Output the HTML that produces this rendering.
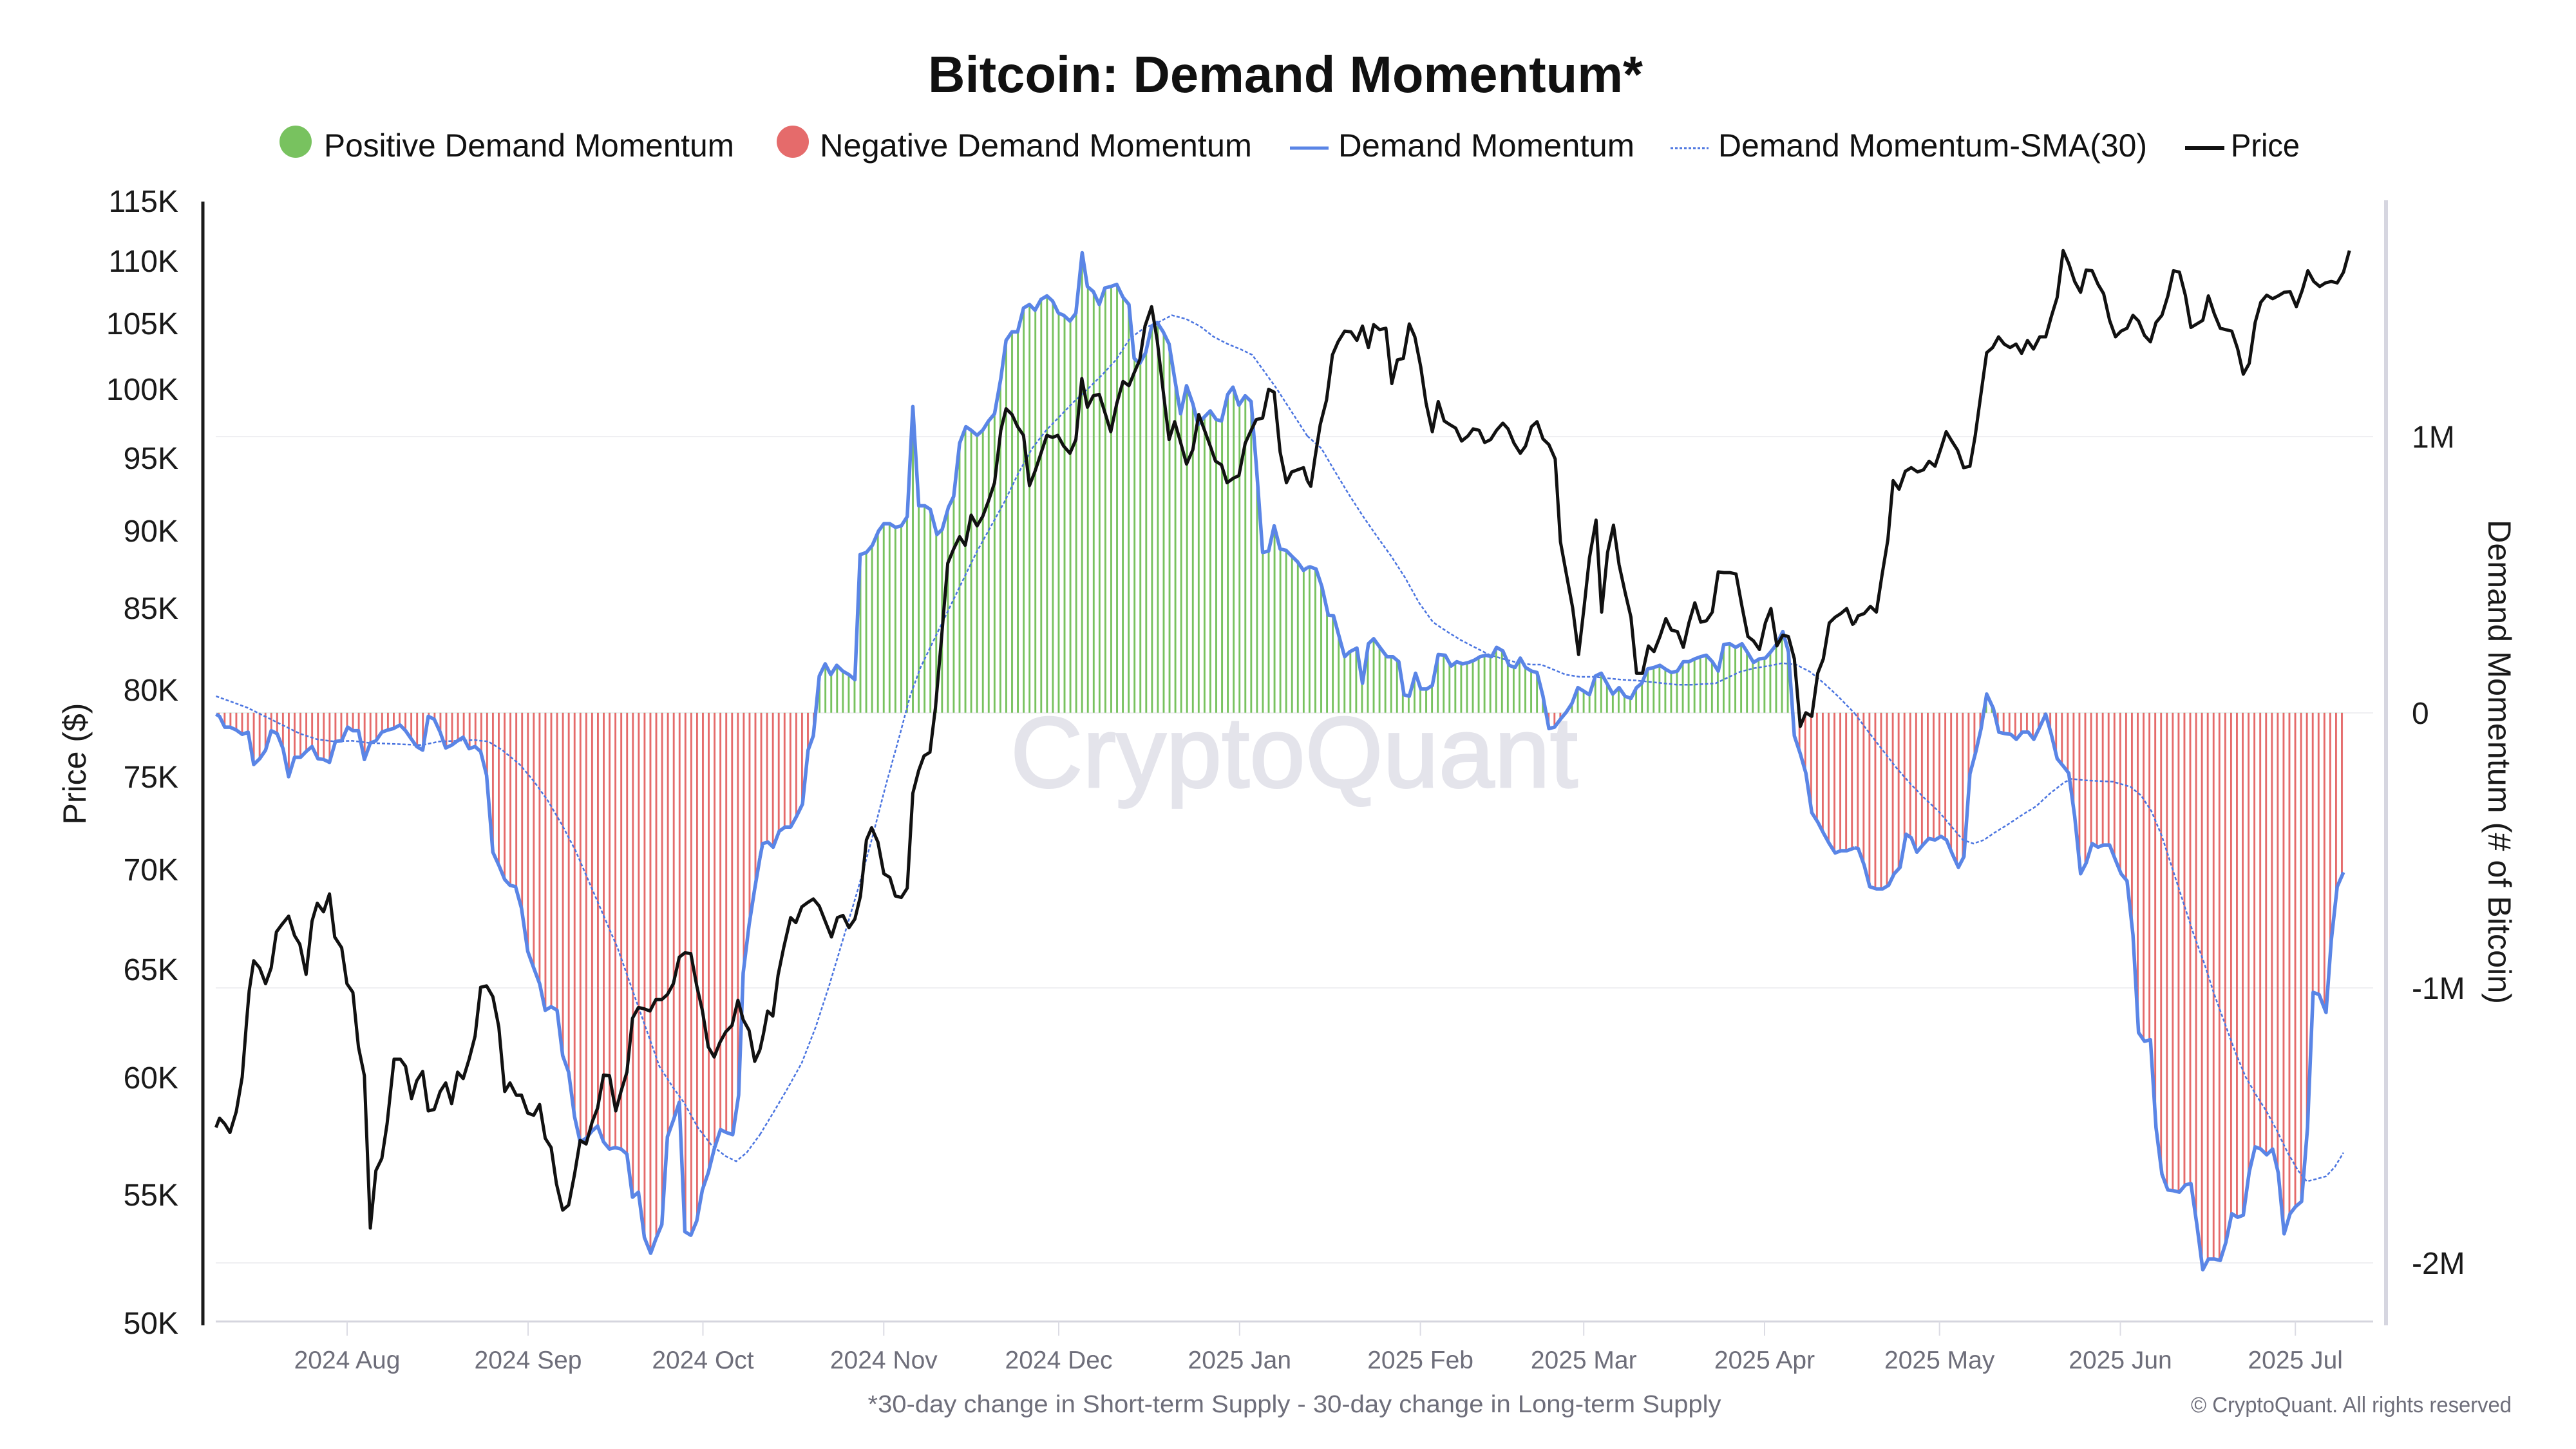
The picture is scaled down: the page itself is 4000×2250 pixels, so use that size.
<!DOCTYPE html>
<html>
<head>
<meta charset="utf-8">
<style>
  html,body{margin:0;padding:0;background:#fff;}
  svg{display:block;}
  text{font-family:"Liberation Sans", sans-serif;}
</style>
</head>
<body>
<svg width="4000" height="2250" viewBox="0 0 4000 2250" xmlns="http://www.w3.org/2000/svg">
  <defs>
    <pattern id="gpat" patternUnits="userSpaceOnUse" x="338.3" y="0" width="9.057" height="20">
      <rect x="0" y="0" width="2.9" height="20" fill="#78c25f"/>
    </pattern>
    <pattern id="rpat" patternUnits="userSpaceOnUse" x="338.3" y="0" width="9.057" height="20">
      <rect x="0" y="0" width="2.9" height="20" fill="#e56b6b"/>
    </pattern>
    <clipPath id="areaClip">
      <polygon transform="translate(330,311) scale(0.54211,1.11607)" points="10,715 20,718 35,733 50,733 68,737 85,743 102,740 118,785 135,777 152,765 168,738 185,742 202,763 218,802 235,775 252,775 268,767 285,760 302,777 318,778 335,782 352,753 370,752 387,733 402,738 418,738 435,778 452,755 468,752 485,740 502,737 518,735 537,730 553,738 570,750 585,760 602,765 618,718 635,722 652,740 668,762 685,758 702,752 718,747 735,763 752,760 768,767 785,800 803,907 820,925 837,945 852,953 868,955 885,985 903,1045 920,1068 937,1090 953,1127 970,1122 987,1127 1003,1190 1020,1213 1037,1275 1053,1310 1070,1305 1087,1295 1103,1288 1120,1310 1137,1320 1153,1318 1170,1320 1187,1327 1203,1387 1220,1380 1237,1443 1255,1465 1270,1445 1287,1425 1303,1303 1320,1280 1337,1255 1353,1435 1370,1440 1387,1420 1403,1377 1420,1353 1437,1320 1455,1293 1472,1297 1490,1300 1507,1245 1520,1075 1537,1008 1553,958 1568,915 1568,713 10,713"/>
      <polygon transform="translate(1180,311) scale(0.54211,1.11607)" points="0,915 8,895 23,893 38,900 55,878 72,872 88,872 105,857 122,840 138,765 153,745 170,662 187,645 203,660 220,647 237,655 255,660 272,667 287,493 305,490 322,480 340,460 355,450 372,450 388,455 405,453 422,440 438,287 455,425 472,425 488,430 507,465 522,458 540,427 555,412 572,338 590,315 605,320 622,327 638,320 655,307 672,297 690,248 705,195 722,183 738,183 755,150 772,145 788,153 805,138 822,133 838,140 855,157 870,160 888,168 905,157 923,73 938,120 955,127 972,145 988,122 1005,120 1022,117 1040,135 1057,145 1072,220 1088,227 1105,212 1122,175 1138,170 1155,183 1172,200 1188,248 1205,297 1222,258 1240,283 1255,312 1272,302 1290,293 1307,305 1322,307 1340,270 1355,260 1372,285 1390,272 1407,280 1422,370 1440,490 1457,488 1473,453 1490,485 1507,487 1523,495 1540,503 1557,515 1568,511 1568,713 0,713"/>
      <polygon transform="translate(2030,311) scale(0.54211,1.11607)" points="0,511 8,510 25,513 42,538 60,577 75,578 90,605 107,635 122,628 142,623 158,672 175,617 190,610 208,622 228,635 245,635 262,642 277,688 292,690 310,658 325,680 342,680 358,675 375,632 395,633 412,648 428,642 445,645 462,643 478,640 495,635 512,633 528,635 542,622 560,627 578,647 595,650 610,637 625,650 642,655 658,657 675,690 692,735 708,733 725,722 742,712 758,700 775,678 792,683 808,688 825,662 842,658 858,672 875,687 893,678 910,690 927,693 943,678 958,672 975,652 993,650 1010,647 1028,653 1043,657 1060,655 1077,642 1093,642 1110,638 1127,635 1143,633 1160,642 1177,655 1193,618 1210,617 1227,622 1245,617 1262,630 1278,643 1295,638 1312,637 1328,628 1345,617 1362,600 1378,628 1395,745 1412,770 1428,797 1445,852 1462,865 1478,880 1495,895 1512,908 1528,905 1545,905 1568,901 1568,713 0,713"/>
      <polygon transform="translate(2880,311) scale(0.54211,1.11607)" points="0,901 10,902 27,925 43,955 62,958 80,958 97,953 113,937 130,928 147,882 162,887 178,907 195,897 212,888 230,890 247,885 263,890 280,910 297,928 313,913 330,798 347,767 362,735 378,687 397,707 413,740 430,742 447,743 463,750 480,740 497,740 513,750 530,733 547,715 563,743 580,777 597,787 613,797 630,857 647,937 663,922 680,895 697,900 713,897 730,897 747,918 763,937 780,947 797,1022 813,1158 830,1170 847,1168 863,1290 880,1355 897,1377 913,1378 930,1380 947,1370 963,1368 980,1425 997,1488 1013,1473 1030,1473 1047,1475 1063,1450 1080,1410 1097,1415 1113,1412 1130,1352 1147,1317 1163,1320 1180,1328 1197,1320 1213,1353 1230,1438 1247,1410 1263,1400 1280,1393 1297,1290 1313,1102 1330,1105 1350,1130 1365,1030 1382,955 1400,935 1400,713 0,713"/>
    </clipPath>
  </defs>

  <rect x="0" y="0" width="4000" height="2250" fill="#ffffff"/>

  <!-- Title -->
  <text x="1996" y="143" font-size="80" font-weight="bold" fill="#111" text-anchor="middle" textLength="1110" lengthAdjust="spacingAndGlyphs">Bitcoin: Demand Momentum*</text>

  <!-- Legend -->
  <circle cx="459" cy="220" r="25" fill="#78c25f"/>
  <text x="503" y="243" font-size="50" fill="#111" textLength="637" lengthAdjust="spacingAndGlyphs">Positive Demand Momentum</text>
  <circle cx="1231" cy="220" r="25" fill="#e56b6b"/>
  <text x="1273" y="243" font-size="50" fill="#111" textLength="671" lengthAdjust="spacingAndGlyphs">Negative Demand Momentum</text>
  <line x1="2003" y1="230" x2="2063" y2="230" stroke="#5a85e6" stroke-width="5"/>
  <text x="2078" y="243" font-size="50" fill="#111" textLength="460" lengthAdjust="spacingAndGlyphs">Demand Momentum</text>
  <line x1="2594" y1="230" x2="2653" y2="230" stroke="#4a74e0" stroke-width="3" stroke-dasharray="4 3"/>
  <text x="2668" y="243" font-size="50" fill="#111" textLength="666" lengthAdjust="spacingAndGlyphs">Demand Momentum-SMA(30)</text>
  <line x1="3393" y1="230" x2="3454" y2="230" stroke="#111" stroke-width="6"/>
  <text x="3464" y="243" font-size="50" fill="#111" textLength="107" lengthAdjust="spacingAndGlyphs">Price</text>

  <!-- Gridlines -->
  <g stroke="#efeff2" stroke-width="2">
    <line x1="335" y1="678" x2="3685" y2="678"/>
    <line x1="335" y1="1107" x2="3685" y2="1107"/>
    <line x1="335" y1="1534" x2="3685" y2="1534"/>
    <line x1="335" y1="1961" x2="3685" y2="1961"/>
  </g>

  <!-- Watermark -->
  <text x="1569" y="1222" font-size="156" fill="#e4e4eb" stroke="#e4e4eb" stroke-width="3" textLength="881" lengthAdjust="spacingAndGlyphs">CryptoQuant</text>

  <!-- Bars -->
  <rect x="330" y="300" width="3370" height="807" fill="url(#gpat)" clip-path="url(#areaClip)"/>
  <rect x="330" y="1107" width="3370" height="950" fill="url(#rpat)" clip-path="url(#areaClip)"/>

  <!-- Axes -->
  <line x1="315" y1="313" x2="315" y2="2058" stroke="#1a1a1a" stroke-width="5"/>
  <line x1="3705" y1="311" x2="3705" y2="2058" stroke="#d6d6e0" stroke-width="6"/>
  <line x1="335" y1="2052" x2="3685" y2="2052" stroke="#d5d5de" stroke-width="3"/>
  <g stroke="#dcdce4" stroke-width="2">
    <line x1="539" y1="2052" x2="539" y2="2074"/>
    <line x1="820" y1="2052" x2="820" y2="2074"/>
    <line x1="1091.5" y1="2052" x2="1091.5" y2="2074"/>
    <line x1="1372.3" y1="2052" x2="1372.3" y2="2074"/>
    <line x1="1644" y1="2052" x2="1644" y2="2074"/>
    <line x1="1924.8" y1="2052" x2="1924.8" y2="2074"/>
    <line x1="2205.6" y1="2052" x2="2205.6" y2="2074"/>
    <line x1="2459.2" y1="2052" x2="2459.2" y2="2074"/>
    <line x1="2740" y1="2052" x2="2740" y2="2074"/>
    <line x1="3011.7" y1="2052" x2="3011.7" y2="2074"/>
    <line x1="3292.5" y1="2052" x2="3292.5" y2="2074"/>
    <line x1="3564.2" y1="2052" x2="3564.2" y2="2074"/>
  </g>

  <!-- SMA dashed -->
  <g fill="none" stroke="#4a74e0" stroke-width="2.5" stroke-dasharray="5 3">
    <polyline vector-effect="non-scaling-stroke" transform="translate(330,311) scale(0.54211,1.11607)" points="10,690 50,697 100,706 150,718 200,730 250,742 300,750 350,753 400,752 450,755 500,756 550,757 600,758 650,753 700,752 750,751 790,753 830,765 880,785 920,808 960,835 1000,868 1040,905 1080,950 1120,995 1160,1040 1200,1095 1240,1150 1280,1205 1320,1235 1350,1255 1390,1290 1430,1315 1470,1330 1500,1337 1530,1325 1568,1300"/>
    <polyline vector-effect="non-scaling-stroke" transform="translate(1180,311) scale(0.54211,1.11607)" points="0,1300 40,1268 80,1235 120,1200 160,1150 200,1090 240,1025 280,960 320,890 360,815 400,745 430,690 460,650 500,610 540,570 580,530 620,490 660,455 700,420 740,380 780,345 820,320 860,300 900,280 940,262 980,243 1020,222 1060,192 1100,178 1140,170 1180,160 1220,165 1260,175 1300,190 1340,200 1380,208 1410,215 1440,235 1480,262 1520,292 1568,328"/>
    <polyline vector-effect="non-scaling-stroke" transform="translate(2030,311) scale(0.54211,1.11607)" points="0,328 40,345 80,378 120,410 160,440 200,468 240,495 280,525 320,560 360,587 400,600 440,612 480,622 520,632 560,638 600,643 640,646 670,646 700,652 740,660 780,663 820,663 860,665 900,667 940,668 980,670 1020,672 1060,674 1100,674 1140,673 1170,672 1200,665 1240,656 1280,651 1320,648 1360,644 1400,646 1440,656 1480,672 1520,690 1568,714"/>
    <polyline vector-effect="non-scaling-stroke" transform="translate(2880,311) scale(0.54211,1.11607)" points="0,714 40,740 80,765 120,790 160,812 200,832 240,850 280,873 310,890 340,895 370,890 400,880 440,868 480,855 520,843 560,825 600,810 620,805 660,807 700,808 740,809 790,816 820,828 850,850 880,885 910,930 940,975 970,1020 1000,1060 1030,1105 1060,1145 1090,1185 1120,1220 1150,1245 1180,1268 1210,1295 1240,1325 1270,1350 1295,1365 1320,1362 1350,1358 1375,1345 1400,1325"/>
  </g>

  <!-- Demand Momentum line -->
  <g fill="none" stroke="#5a85e6" stroke-width="5.5" stroke-linejoin="round">
    <polyline vector-effect="non-scaling-stroke" transform="translate(330,311) scale(0.54211,1.11607)" points="10,715 20,718 35,733 50,733 68,737 85,743 102,740 118,785 135,777 152,765 168,738 185,742 202,763 218,802 235,775 252,775 268,767 285,760 302,777 318,778 335,782 352,753 370,752 387,733 402,738 418,738 435,778 452,755 468,752 485,740 502,737 518,735 537,730 553,738 570,750 585,760 602,765 618,718 635,722 652,740 668,762 685,758 702,752 718,747 735,763 752,760 768,767 785,800 803,907 820,925 837,945 852,953 868,955 885,985 903,1045 920,1068 937,1090 953,1127 970,1122 987,1127 1003,1190 1020,1213 1037,1275 1053,1310 1070,1305 1087,1295 1103,1288 1120,1310 1137,1320 1153,1318 1170,1320 1187,1327 1203,1387 1220,1380 1237,1443 1255,1465 1270,1445 1287,1425 1303,1303 1320,1280 1337,1255 1353,1435 1370,1440 1387,1420 1403,1377 1420,1353 1437,1320 1455,1293 1472,1297 1490,1300 1507,1245 1520,1075 1537,1008 1553,958 1568,915"/>
    <polyline vector-effect="non-scaling-stroke" transform="translate(1180,311) scale(0.54211,1.11607)" points="0,915 8,895 23,893 38,900 55,878 72,872 88,872 105,857 122,840 138,765 153,745 170,662 187,645 203,660 220,647 237,655 255,660 272,667 287,493 305,490 322,480 340,460 355,450 372,450 388,455 405,453 422,440 438,287 455,425 472,425 488,430 507,465 522,458 540,427 555,412 572,338 590,315 605,320 622,327 638,320 655,307 672,297 690,248 705,195 722,183 738,183 755,150 772,145 788,153 805,138 822,133 838,140 855,157 870,160 888,168 905,157 923,73 938,120 955,127 972,145 988,122 1005,120 1022,117 1040,135 1057,145 1072,220 1088,227 1105,212 1122,175 1138,170 1155,183 1172,200 1188,248 1205,297 1222,258 1240,283 1255,312 1272,302 1290,293 1307,305 1322,307 1340,270 1355,260 1372,285 1390,272 1407,280 1422,370 1440,490 1457,488 1473,453 1490,485 1507,487 1523,495 1540,503 1557,515 1568,511"/>
    <polyline vector-effect="non-scaling-stroke" transform="translate(2030,311) scale(0.54211,1.11607)" points="0,511 8,510 25,513 42,538 60,577 75,578 90,605 107,635 122,628 142,623 158,672 175,617 190,610 208,622 228,635 245,635 262,642 277,688 292,690 310,658 325,680 342,680 358,675 375,632 395,633 412,648 428,642 445,645 462,643 478,640 495,635 512,633 528,635 542,622 560,627 578,647 595,650 610,637 625,650 642,655 658,657 675,690 692,735 708,733 725,722 742,712 758,700 775,678 792,683 808,688 825,662 842,658 858,672 875,687 893,678 910,690 927,693 943,678 958,672 975,652 993,650 1010,647 1028,653 1043,657 1060,655 1077,642 1093,642 1110,638 1127,635 1143,633 1160,642 1177,655 1193,618 1210,617 1227,622 1245,617 1262,630 1278,643 1295,638 1312,637 1328,628 1345,617 1362,600 1378,628 1395,745 1412,770 1428,797 1445,852 1462,865 1478,880 1495,895 1512,908 1528,905 1545,905 1568,901"/>
    <polyline vector-effect="non-scaling-stroke" transform="translate(2880,311) scale(0.54211,1.11607)" points="0,901 10,902 27,925 43,955 62,958 80,958 97,953 113,937 130,928 147,882 162,887 178,907 195,897 212,888 230,890 247,885 263,890 280,910 297,928 313,913 330,798 347,767 362,735 378,687 397,707 413,740 430,742 447,743 463,750 480,740 497,740 513,750 530,733 547,715 563,743 580,777 597,787 613,797 630,857 647,937 663,922 680,895 697,900 713,897 730,897 747,918 763,937 780,947 797,1022 813,1158 830,1170 847,1168 863,1290 880,1355 897,1377 913,1378 930,1380 947,1370 963,1368 980,1425 997,1488 1013,1473 1030,1473 1047,1475 1063,1450 1080,1410 1097,1415 1113,1412 1130,1352 1147,1317 1163,1320 1180,1328 1197,1320 1213,1353 1230,1438 1247,1410 1263,1400 1280,1393 1297,1290 1313,1102 1330,1105 1350,1130 1365,1030 1382,955 1400,935"/>
  </g>

  <!-- Price line -->
  <g fill="none" stroke="#111111" stroke-width="5" stroke-linejoin="round">
    <polyline vector-effect="non-scaling-stroke" transform="translate(330,311) scale(0.54211,1.11607)" points="10,1290 20,1277 35,1285 50,1297 68,1268 85,1220 98,1140 105,1100 118,1058 135,1068 152,1090 168,1068 183,1018 198,1008 218,996 235,1023 250,1035 268,1077 285,1003 300,978 318,990 335,965 350,1025 370,1040 385,1090 402,1102 418,1178 435,1218 452,1430 468,1350 485,1333 500,1285 520,1195 538,1195 553,1205 570,1250 585,1225 602,1212 618,1267 635,1265 652,1240 668,1228 685,1257 702,1213 718,1222 735,1195 752,1163 768,1095 785,1093 803,1108 820,1150 837,1240 852,1228 870,1245 885,1245 903,1270 920,1273 937,1258 953,1305 970,1318 985,1368 1003,1405 1020,1398 1037,1355 1053,1308 1070,1313 1087,1283 1103,1263 1120,1217 1137,1218 1155,1267 1170,1240 1187,1213 1203,1138 1220,1123 1237,1125 1253,1128 1270,1112 1287,1112 1303,1105 1320,1090 1337,1053 1353,1047 1370,1048 1387,1093 1403,1127 1420,1178 1437,1192 1453,1172 1470,1157 1488,1148 1505,1113 1520,1140 1537,1155 1553,1198 1568,1182"/>
    <polyline vector-effect="non-scaling-stroke" transform="translate(1180,311) scale(0.54211,1.11607)" points="0,1182 10,1160 22,1128 37,1135 52,1078 68,1040 88,998 103,1005 120,983 137,977 153,972 170,982 187,1003 205,1025 222,998 238,995 255,1012 272,1000 288,968 305,890 320,873 338,893 355,937 372,942 388,968 405,970 422,957 438,825 455,793 470,773 487,768 503,705 520,610 538,505 555,485 572,468 588,480 605,438 622,453 638,440 655,418 672,393 690,320 705,290 722,298 738,315 755,327 772,397 788,377 805,352 822,327 838,330 853,327 870,342 888,352 905,333 922,248 938,288 955,272 972,270 988,295 1005,322 1022,283 1040,252 1057,258 1072,240 1088,222 1103,175 1122,148 1138,195 1155,265 1172,333 1188,308 1205,337 1222,367 1240,347 1257,298 1272,318 1290,342 1305,363 1322,368 1338,393 1355,387 1372,383 1390,338 1405,322 1422,305 1440,303 1457,263 1473,267 1490,350 1508,393 1523,378 1540,375 1557,372 1568,390"/>
    <polyline vector-effect="non-scaling-stroke" transform="translate(2030,311) scale(0.54211,1.11607)" points="0,390 10,398 22,358 37,312 55,278 72,215 88,197 107,182 125,183 142,195 158,175 175,205 190,173 207,180 225,178 242,255 258,222 275,220 292,172 308,190 325,232 340,282 358,322 375,280 392,307 408,312 425,317 442,335 460,328 475,318 492,320 508,337 525,333 542,320 560,310 575,318 592,338 610,352 625,342 642,315 658,308 675,332 692,340 710,360 725,475 742,520 760,567 777,632 793,565 808,498 827,445 843,573 860,490 877,452 893,507 910,545 927,580 943,658 960,658 977,620 993,628 1010,607 1027,582 1043,598 1060,600 1077,622 1093,588 1110,560 1127,587 1143,585 1160,573 1177,517 1193,518 1210,518 1228,520 1245,565 1262,607 1278,613 1295,625 1312,588 1328,568 1345,620 1362,605 1378,607 1395,638 1412,732 1428,713 1445,718 1462,658 1478,638 1495,588 1512,580 1528,575 1545,568 1562,590 1568,588"/>
    <polyline vector-effect="non-scaling-stroke" transform="translate(2880,311) scale(0.54211,1.11607)" points="0,588 10,578 27,575 45,565 62,573 78,522 95,472 110,390 127,402 145,377 162,372 180,378 197,375 213,363 230,370 247,345 262,322 278,335 295,348 312,372 330,370 345,328 362,268 378,212 395,205 412,190 428,200 445,205 462,200 478,213 495,195 512,207 530,190 547,190 563,162 580,135 597,70 613,88 630,113 647,128 663,97 680,98 697,117 713,130 730,167 747,190 763,182 780,178 797,160 813,168 830,188 847,197 863,170 880,160 897,133 913,98 930,100 947,132 963,177 980,172 997,167 1013,133 1030,158 1047,178 1063,180 1080,182 1097,207 1113,242 1130,227 1147,170 1163,142 1180,132 1197,137 1213,133 1230,128 1247,127 1265,148 1282,125 1298,98 1315,113 1332,120 1348,115 1365,113 1382,115 1400,100 1417,70"/>
  </g>

  <!-- Left axis labels -->
  <g font-size="48" fill="#1a1a1a" text-anchor="end">
    <text x="277" y="329">115K</text>
    <text x="277" y="422">110K</text>
    <text x="277" y="519">105K</text>
    <text x="277" y="621">100K</text>
    <text x="277" y="728">95K</text>
    <text x="277" y="841">90K</text>
    <text x="277" y="961">85K</text>
    <text x="277" y="1088">80K</text>
    <text x="277" y="1223">75K</text>
    <text x="277" y="1367">70K</text>
    <text x="277" y="1522">65K</text>
    <text x="277" y="1690">60K</text>
    <text x="277" y="1872">55K</text>
    <text x="277" y="2071">50K</text>
  </g>
  <text transform="translate(133,1186) rotate(-90)" font-size="50" fill="#1a1a1a" text-anchor="middle">Price ($)</text>

  <!-- Right axis labels -->
  <g font-size="48" fill="#1a1a1a" text-anchor="start">
    <text x="3745" y="695">1M</text>
    <text x="3745" y="1124">0</text>
    <text x="3745" y="1551">-1M</text>
    <text x="3745" y="1978">-2M</text>
  </g>
  <text transform="translate(3864,1183) rotate(90)" font-size="50" fill="#1a1a1a" text-anchor="middle" textLength="752" lengthAdjust="spacingAndGlyphs">Demand Momentum (# of Bitcoin)</text>

  <!-- X axis labels -->
  <g font-size="39" fill="#6e6e7a" text-anchor="middle">
    <text x="539" y="2125">2024 Aug</text>
    <text x="820" y="2125">2024 Sep</text>
    <text x="1091.5" y="2125">2024 Oct</text>
    <text x="1372.3" y="2125">2024 Nov</text>
    <text x="1644" y="2125">2024 Dec</text>
    <text x="1924.8" y="2125">2025 Jan</text>
    <text x="2205.6" y="2125">2025 Feb</text>
    <text x="2459.2" y="2125">2025 Mar</text>
    <text x="2740" y="2125">2025 Apr</text>
    <text x="3011.7" y="2125">2025 May</text>
    <text x="3292.5" y="2125">2025 Jun</text>
    <text x="3564.2" y="2125">2025 Jul</text>
  </g>

  <!-- Footer -->
  <text x="2010" y="2193" font-size="38" fill="#6e6e7a" text-anchor="middle" textLength="1325" lengthAdjust="spacingAndGlyphs">*30-day change in Short-term Supply - 30-day change in Long-term Supply</text>
  <text x="3900" y="2193" font-size="34" fill="#6e6e7a" text-anchor="end" textLength="498" lengthAdjust="spacingAndGlyphs">© CryptoQuant. All rights reserved</text>
</svg>
</body>
</html>
